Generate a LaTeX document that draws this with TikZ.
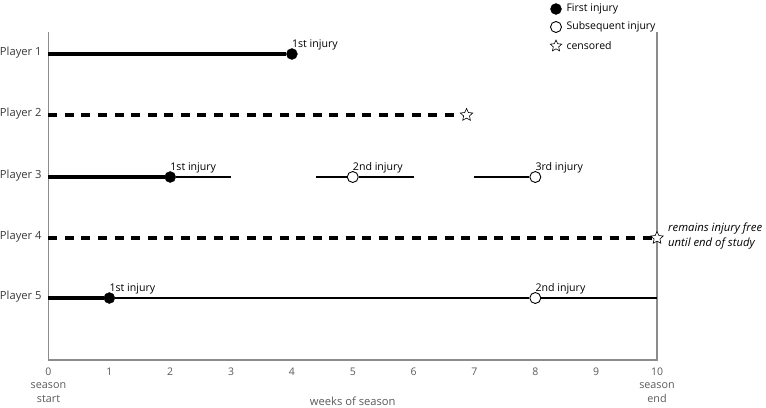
\documentclass[tikz,border=0pt]{standalone}
\usepackage{fontspec}
\setmainfont{Open Sans}
\usetikzlibrary{shapes.geometric}
\definecolor{axisgray}{HTML}{8C8C8C}
\definecolor{txtgray}{HTML}{3A3A3A}
\definecolor{ticktxt}{HTML}{5A5A5A}
\begin{document}
\begin{tikzpicture}[x=60.85pt,y=-1pt,
  lbl/.style={font=\fontsize{10.5}{12}\selectfont, text=txtgray, inner sep=0pt},
  plbl/.style={font=\fontsize{11.2}{13}\selectfont, text=txtgray, inner sep=0pt, anchor=east},
  injlbl/.style={font=\fontsize{10.6}{12}\selectfont, text=black, inner sep=0pt, anchor=base west},
  firstinj/.style={circle, fill=black, draw=black, minimum size=11pt, inner sep=0pt},
  subinj/.style={circle, fill=white, draw=black, line width=0.9pt, minimum size=11pt, inner sep=0pt},
  cens/.style={star, star points=5, star point ratio=2.1, draw=black, fill=white, line width=0.6pt, minimum size=13pt, inner sep=0pt},
  axisline/.style={draw=axisgray, line width=1.3pt},
  heavy/.style={line width=3.8pt, black},
  light/.style={line width=1.3pt, black},
  dashedline/.style={line width=3.8pt, black, dash pattern=on 9pt off 7.5pt}]
\useasboundingbox (-0.797,0) rectangle (11.791,407);
% axes
\coordinate (tl) at (0,32);
\coordinate (bl) at (0,360);
\coordinate (br) at (10,360);
\coordinate (tr) at (10,32);
\draw[axisline] (tl) -- (bl) -- (br) -- (tr);
% tick labels
\foreach \i in {0,...,10} {
  \node[lbl, text=ticktxt] (t\i) at (\i,371.5) {\i};
}
\node[lbl, text=ticktxt, align=center, anchor=north, font=\fontsize{10.8}{14}\selectfont] (sstart) at (0,382) {season\\start};
\node[lbl, text=ticktxt, align=center, anchor=north, font=\fontsize{10.8}{14}\selectfont] (send) at (10,382) {season\\end};
\node[lbl, text=ticktxt, anchor=base, font=\fontsize{11.2}{13}\selectfont] (wk) at (5,405) {weeks of season};
% player labels
\node[plbl] (pl1) at (-0.11,52.5) {Player 1};
\node[plbl] (pl2) at (-0.11,113.5) {Player 2};
\node[plbl] (pl3) at (-0.11,175.5) {Player 3};
\node[plbl] (pl4) at (-0.11,236.5) {Player 4};
\node[plbl] (pl5) at (-0.11,296.5) {Player 5};
% Player 1
\coordinate (p1s) at (0,54);
\node[firstinj] (p1a) at (4,54) {};
\draw[heavy] (p1s) -- (p1a);
\node[injlbl] (l1a) at (4.0,47) {1st injury};
% Player 2
\coordinate (p2s) at (0,115);
\node[cens] (p2c) at (6.87,115) {};
\draw[dashedline] (p2s) -- ([xshift=-4pt]p2c.west);
% Player 3
\coordinate (p3s) at (0,177);
\node[firstinj] (p3a) at (2,177) {};
\coordinate (p3ae) at (3,177);
\draw[heavy] (p3s) -- (p3a);
\draw[light] (p3a) -- (p3ae);
\node[injlbl] (l3a) at (2.0,170) {1st injury};
\coordinate (p3bs) at (4.4,177);
\node[subinj] (p3b) at (5,177) {};
\coordinate (p3be) at (6,177);
\draw[light] (p3bs) -- (p3b) -- (p3be);
\node[injlbl] (l3b) at (5.0,170) {2nd injury};
\coordinate (p3cs) at (7,177);
\node[subinj] (p3c) at (8,177) {};
\draw[light] (p3cs) -- (p3c);
\node[injlbl] (l3c) at (8.0,170) {3rd injury};
% Player 4
\coordinate (p4s) at (0,238);
\node[cens] (p4c) at (10,238) {};
\draw[dashedline] (p4s) -- (p4c.west);
\node[lbl, text=black, anchor=west, align=left, font=\fontsize{11.3}{15}\selectfont\itshape] (p4t) at (10.18,236) {remains injury free\\until end of study};
% Player 5
\coordinate (p5s) at (0,298);
\node[firstinj] (p5a) at (1,298) {};
\node[subinj] (p5b) at (8,298) {};
\coordinate (p5e) at (10,298);
\draw[heavy] (p5s) -- (p5a);
\draw[light] (p5a) -- (p5b) -- (p5e);
\node[injlbl] (l5a) at (1.0,291) {1st injury};
\node[injlbl] (l5b) at (8.0,291) {2nd injury};
% legend
\node[firstinj] (lg1) at (8.34,9) {};
\node[lbl, text=black, anchor=west] (lg1t) at (8.51,9) {First injury};
\node[subinj] (lg2) at (8.34,27) {};
\node[lbl, text=black, anchor=west] (lg2t) at (8.51,27) {Subsequent injury};
\node[cens, minimum size=12pt] (lg3) at (8.34,46) {};
\node[lbl, text=black, anchor=west] (lg3t) at (8.51,46) {censored};
\end{tikzpicture}
\end{document}
